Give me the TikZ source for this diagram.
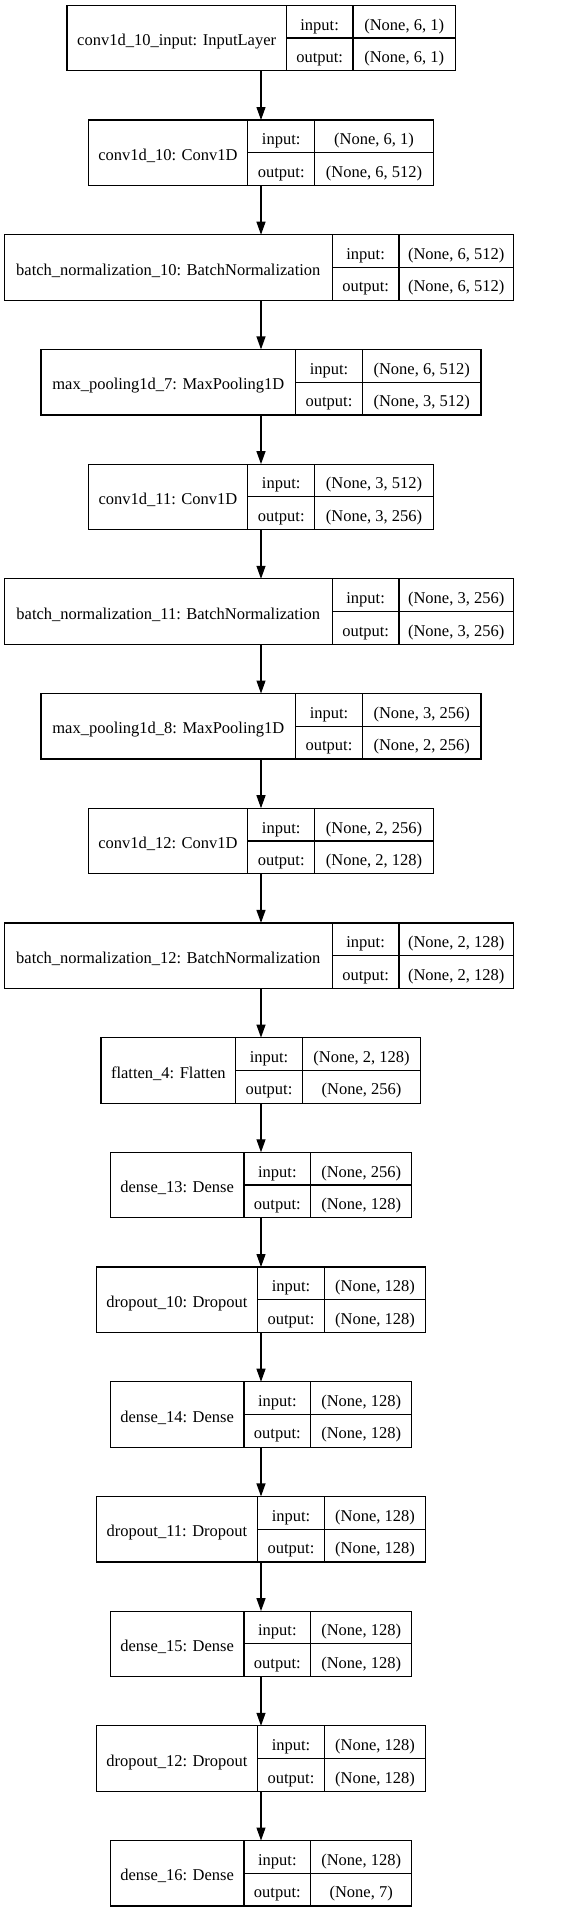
\documentclass[tikz,border=0pt]{standalone}
\usepackage{fontspec}
\setmainfont{Liberation Serif}
\usetikzlibrary{arrows.meta}
\tikzset{
  layerbox/.style={draw=black, line width=1.2pt, inner sep=0pt, outer sep=0pt, anchor=north west},
  cellline/.style={draw=black, line width=1.2pt},
  lbl/.style={inner sep=0pt, anchor=base, font=\fontsize{16.5}{19}\selectfont},
  flow/.style={draw=black, line width=1.2pt, -{Triangle[length=13pt,width=9pt]}},
}
% #1 index, #2 name, #3 left, #4 div1, #5 div2, #6 right, #7 input shape, #8 output shape
\newcommand\kerasLayer[8]{%
  \pgfmathsetmacro\lyT{-(5.3+114.7*#1)}%
  \pgfmathsetmacro\lyB{\lyT-65.5}%
  \pgfmathsetmacro\lyM{\lyT-32.75}%
  \pgfmathsetmacro\lyW{#6-#3}%
  \pgfmathsetmacro\lbA{\lyT-24.8}%
  \pgfmathsetmacro\lbB{\lyT-57.2}%
  \pgfmathsetmacro\lbN{\lyT-40.4}%
  \pgfmathsetmacro\lxA{(#3+#4)/2}%
  \pgfmathsetmacro\lxB{(#4+#5)/2}%
  \pgfmathsetmacro\lxC{(#5+#6)/2}%
  \node[layerbox, minimum width=\lyW pt, minimum height=65.5pt] (L#1) at (#3,\lyT) {};
  \draw[cellline] (#4,\lyT) -- (#4,\lyB) (#5,\lyT) -- (#5,\lyB) (#4,\lyM) -- (#6,\lyM);
  \node[lbl] (L#1-name) at (\lxA,\lbN) {#2};
  \node[lbl] (L#1-in) at (\lxB,\lbA) {input:};
  \node[lbl] (L#1-out) at (\lxB,\lbB) {output:};
  \node[lbl] (L#1-iv) at (\lxC,\lbA) {#7};
  \node[lbl] (L#1-ov) at (\lxC,\lbB) {#8};
}
\begin{document}
\begin{tikzpicture}[x=1pt,y=1pt]
\useasboundingbox (0,0) rectangle (566,-1912);
\kerasLayer{0}{conv1d\_10\_input: InputLayer}{67}{286.3}{353}{455.3}{(None, 6, 1)}{(None, 6, 1)}
\kerasLayer{1}{conv1d\_10: Conv1D}{88.3}{247.7}{314.7}{433.3}{(None, 6, 1)}{(None, 6, 512)}
\kerasLayer{2}{batch\_normalization\_10: BatchNormalization}{4.3}{332.3}{399}{513.3}{(None, 6, 512)}{(None, 6, 512)}
\kerasLayer{3}{max\_pooling1d\_7: MaxPooling1D}{41}{295.7}{362.3}{481}{(None, 6, 512)}{(None, 3, 512)}
\kerasLayer{4}{conv1d\_11: Conv1D}{88.3}{247.7}{314.7}{433.3}{(None, 3, 512)}{(None, 3, 256)}
\kerasLayer{5}{batch\_normalization\_11: BatchNormalization}{4.3}{332.3}{399}{513.3}{(None, 3, 256)}{(None, 3, 256)}
\kerasLayer{6}{max\_pooling1d\_8: MaxPooling1D}{41}{295.7}{362.3}{481}{(None, 3, 256)}{(None, 2, 256)}
\kerasLayer{7}{conv1d\_12: Conv1D}{88.3}{247.7}{314.7}{433.3}{(None, 2, 256)}{(None, 2, 128)}
\kerasLayer{8}{batch\_normalization\_12: BatchNormalization}{4.3}{332.3}{399}{513.3}{(None, 2, 128)}{(None, 2, 128)}
\kerasLayer{9}{flatten\_4: Flatten}{101}{235.7}{302.3}{420.7}{(None, 2, 128)}{(None, 256)}
\kerasLayer{10}{dense\_13: Dense}{110.3}{244}{310.7}{411.7}{(None, 256)}{(None, 128)}
\kerasLayer{11}{dropout\_10: Dropout}{96.3}{257.7}{324.3}{425.7}{(None, 128)}{(None, 128)}
\kerasLayer{12}{dense\_14: Dense}{110.3}{244}{310.7}{411.7}{(None, 128)}{(None, 128)}
\kerasLayer{13}{dropout\_11: Dropout}{96.3}{257.7}{324.3}{425.7}{(None, 128)}{(None, 128)}
\kerasLayer{14}{dense\_15: Dense}{110.3}{244}{310.7}{411.7}{(None, 128)}{(None, 128)}
\kerasLayer{15}{dropout\_12: Dropout}{96.3}{257.7}{324.3}{425.7}{(None, 128)}{(None, 128)}
\kerasLayer{16}{dense\_16: Dense}{110.3}{244}{310.7}{411.7}{(None, 128)}{(None, 7)}
\coordinate (ax) at (261,0);
\foreach \i [evaluate=\i as \j using int(\i+1)] in {0,...,15}{
  \draw[flow] (L\i.south -| ax) -- (L\j.north -| ax);
}
\end{tikzpicture}
\end{document}
